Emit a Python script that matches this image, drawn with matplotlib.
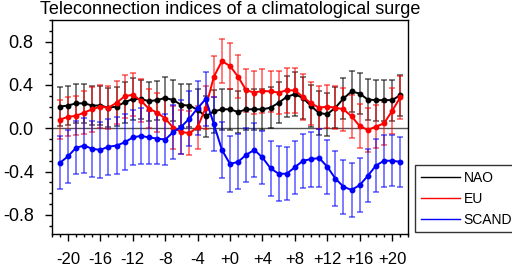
import matplotlib
matplotlib.use("Agg")
import matplotlib.pyplot as plt
from matplotlib.ticker import MultipleLocator, FixedLocator
import numpy as np

plt.rcParams['font.family'] = ['Liberation Sans', 'DejaVu Sans']

days = list(range(-21, 22))

nao = [0.20, 0.21, 0.23, 0.23, 0.21, 0.21, 0.19, 0.20, 0.24, 0.27, 0.27,
       0.25, 0.26, 0.28, 0.26, 0.215, 0.21, 0.17, 0.11, 0.155, 0.175, 0.175,
       0.15, 0.175, 0.175, 0.175, 0.19, 0.235, 0.29, 0.315, 0.28, 0.205,
       0.14, 0.13, 0.19, 0.275, 0.34, 0.32, 0.265, 0.26, 0.26, 0.26, 0.305]
eu = [0.08, 0.105, 0.115, 0.145, 0.175, 0.20, 0.19, 0.235, 0.295, 0.31, 0.255,
      0.18, 0.145, 0.09, 0.005, -0.035, -0.045, 0.01, 0.19, 0.475, 0.62, 0.575,
      0.475, 0.35, 0.33, 0.345, 0.34, 0.33, 0.35, 0.35, 0.29, 0.23,
      0.19, 0.20, 0.19, 0.175, 0.11, 0.02, -0.015, 0.015, 0.045, 0.16, 0.285]
scand = [-0.32, -0.26, -0.18, -0.16, -0.19, -0.20, -0.17, -0.16, -0.13, -0.085, -0.07,
         -0.085, -0.095, -0.105, -0.035, 0.015, 0.09, 0.185, 0.27, 0.04, -0.20, -0.33,
         -0.31, -0.245, -0.20, -0.27, -0.37, -0.42, -0.42, -0.36, -0.30, -0.285,
         -0.275, -0.355, -0.465, -0.54, -0.57, -0.525, -0.44, -0.345, -0.30, -0.30, -0.31]

nao_err = [0.18, 0.18, 0.18, 0.18, 0.18, 0.18, 0.18, 0.18, 0.19, 0.19, 0.18,
           0.18, 0.18, 0.19, 0.19, 0.19, 0.20, 0.19, 0.19, 0.20, 0.19, 0.19,
           0.19, 0.19, 0.19, 0.19, 0.19, 0.19, 0.19, 0.20, 0.19, 0.19,
           0.20, 0.20, 0.19, 0.19, 0.19, 0.19, 0.19, 0.19, 0.19, 0.19, 0.19]
eu_err = [0.18, 0.18, 0.18, 0.20, 0.21, 0.20, 0.20, 0.20, 0.20, 0.20, 0.20,
          0.18, 0.18, 0.19, 0.20, 0.20, 0.20, 0.20, 0.20, 0.19, 0.20, 0.21,
          0.20, 0.20, 0.20, 0.20, 0.19, 0.20, 0.21, 0.21, 0.21, 0.20,
          0.20, 0.20, 0.20, 0.20, 0.20, 0.20, 0.20, 0.20, 0.20, 0.21, 0.20]
scand_err = [0.245, 0.245, 0.245, 0.255, 0.26, 0.26, 0.26, 0.26, 0.26, 0.255, 0.26,
             0.245, 0.235, 0.235, 0.25, 0.25, 0.25, 0.25, 0.25, 0.25, 0.26, 0.255,
             0.255, 0.25, 0.25, 0.245, 0.255, 0.255, 0.245, 0.245, 0.25, 0.255,
             0.265, 0.25, 0.255, 0.25, 0.25, 0.25, 0.245, 0.245, 0.24, 0.235, 0.23]

series = [("NAO", nao, nao_err, "black"),
          ("EU", eu, eu_err, "red"),
          ("SCAND", scand, scand_err, "blue")]

xtick_vals = [-20, -16, -12, -8, -4, 0, 4, 8, 12, 16, 20]
xtick_labels = ["-20", "-16", "-12", "-8", "-4", "+0", "+4", "+8", "+12", "+16", "+20"]
ytick_vals = [-0.8, -0.4, 0.0, 0.4, 0.8]
ytick_labels = ["-0.8", "-0.4", "0.0", "0.4", "0.8"]

fig = plt.figure(figsize=(5.12, 2.70), dpi=100)
ax = fig.add_axes([0.101, 0.132, 0.6965, 0.794])

ax.axhline(0, color="#555555", lw=1.0, zorder=1)

for name, vals, err, col in series:
    ax.errorbar(days, vals, yerr=err, fmt="none", ecolor=col, alpha=0.65,
                elinewidth=1.1, capsize=2, capthick=1.1, zorder=2)
for name, vals, err, col in series:
    ax.plot(days, vals, color=col, lw=1.4, marker="o", ms=3.2, label=name, zorder=3)

ax.set_xlim(-22, 22)
ax.set_ylim(-0.98, 1.0)
ax.xaxis.set_major_locator(FixedLocator(xtick_vals))
ax.set_xticklabels(xtick_labels)
ax.xaxis.set_minor_locator(MultipleLocator(1))
ax.yaxis.set_major_locator(FixedLocator(ytick_vals))
ax.set_yticklabels(ytick_labels)
ax.yaxis.set_minor_locator(MultipleLocator(0.1))
ax.tick_params(which="major", direction="out", length=5, width=1, top=False, right=False)
ax.tick_params(axis="x", which="major", pad=8, labelsize=12)
ax.tick_params(axis="y", which="major", pad=8, labelsize=13)
ax.tick_params(which="minor", direction="out", length=2.5, width=1, top=False, right=False)
for s in ax.spines.values():
    s.set_linewidth(1.0)

ax.set_title("Teleconnection indices of a climatological surge", fontsize=13, pad=4)

leg = ax.legend(loc="upper left", bbox_to_anchor=(1.019, 0.323), borderaxespad=0,
                fontsize=10, frameon=True, fancybox=False, edgecolor="black",
                handlelength=2.8, handletextpad=0.3, labelspacing=0.5)
leg.get_frame().set_linewidth(1.0)
for h in leg.legend_handles:
    h.set_marker("")
    h.set_linewidth(1.0)

fig.savefig("out.png", dpi=100)
